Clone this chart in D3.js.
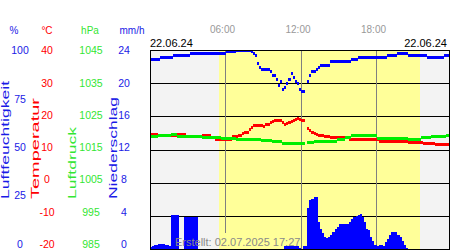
<!DOCTYPE html>
<html>
<head>
<meta charset="utf-8">
<script src="https://cdn.jsdelivr.net/npm/d3@7"></script>
<style>
body { margin: 0; background: #fff; }
svg { display: block; font-family: "Liberation Sans", Arial, sans-serif; }
</style>
</head>
<body>
<svg id="chart" width="450" height="250"></svg>
<script>
// one value every 10 minutes, 00:00 .. 23:50 (null = no sample)
var humidity = [
  95,95,95,95,95,96,96,96,96,96,96,97,
  97,97,97,97,97,97,97,98,98,98,98,98,
  98,98,98,98,98,98,98,98,98,98,98,98,
  99,99,99,99,99,100,100,100,100,100,100,100,
  99,98,97,93,91,90,90,90,90,89,87,87,
  85,82,84,80,81,83,85,88,86,84,83,80,
  79,79,null,84,87,89,89,90,91,92,92,92,
  92,92,94,94,94,94,94,94,94,94,94,94,
  95,95,95,96,96,96,96,96,96,96,96,96,
  96,96,96,96,96,97,97,97,97,97,98,98,
  98,98,98,97,97,97,97,97,97,97,97,97,
  96,96,96,96,96,96,96,96,97,97,97,97
];
var temperature = [
  14.6,14.6,14.6,14.6,14.3,14.3,14.3,14.3,14.3,14.3,14.3,14.3,
  14.3,14.4,14.4,14.4,14.4,13.9,13.9,13.9,13.9,13.9,13.9,13.9,
  13.9,14.1,14.1,14.1,14.1,13.7,13.7,12.9,12.9,12.9,13.0,13.0,
  13.0,13.0,13.0,13.8,13.8,13.8,14.1,14.1,14.7,15.0,15.2,15.9,
  16.6,17.1,17.1,17.2,17.2,17.2,16.9,17.4,17.4,18.2,18.4,18.6,
  18.6,18.6,18.6,18.0,17.4,17.8,18.1,18.4,18.8,19.0,19.2,19.0,
  18.7,18.7,null,16.4,15.6,15.0,14.8,14.6,14.2,14.2,14.1,14.0,
  13.9,13.9,13.6,13.5,13.5,13.5,13.5,13.5,13.5,13.5,13.5,12.9,
  12.9,12.9,12.9,12.9,12.9,12.9,12.9,12.9,12.9,12.9,12.9,12.9,
  12.9,12.3,12.3,12.3,12.3,12.3,12.3,12.3,12.3,12.3,12.3,12.3,
  12.3,12.3,12.3,12.0,12.0,12.0,12.0,12.0,12.0,12.0,11.7,11.7,
  11.7,11.7,11.7,11.7,11.5,11.5,11.5,11.5,11.5,11.5,11.5,11.5
];
var pressure = [
  1019.0,1019.0,1019.0,1019.0,1019.2,1019.2,1019.2,1019.2,1019.2,1019.2,1019.4,1019.4,
  1019.4,1018.8,1018.8,1018.8,1018.8,1018.8,1018.8,1018.8,1018.8,1018.8,1018.8,1018.8,
  1018.8,1018.6,1018.6,1018.6,1018.6,1018.6,1018.6,1018.6,1018.6,1018.6,1018.2,1018.2,
  1018.2,1018.2,1018.2,1018.2,1018.2,1018.1,1018.1,1018.1,1018.1,1018.1,1018.1,1018.1,
  1018.1,1018.1,1018.1,1018.1,1018.1,1017.7,1017.7,1017.7,1017.7,1017.7,1017.3,1017.3,
  1017.3,1017.3,1017.3,1016.9,1016.9,1016.9,1016.9,1016.9,1016.9,1016.9,1016.9,1016.9,
  1016.9,1016.9,null,1017.2,1017.2,1017.2,1017.4,1017.4,1017.4,1017.4,1017.4,1017.4,
  1017.4,1017.4,1017.4,1017.4,1017.4,1018.1,1018.1,1018.1,1018.1,1018.7,1018.7,1018.7,
  1019.2,1019.2,1019.2,1019.2,1019.2,1019.2,1019.2,1019.2,1019.2,1019.2,1019.2,1019.2,
  1018.4,1018.4,1018.4,1018.4,1018.4,1018.4,1018.4,1018.4,1018.4,1018.4,1018.4,1018.4,
  1018.4,1018.4,1018.4,1018.1,1018.1,1018.1,1018.1,1018.1,1018.1,1018.6,1018.6,1018.6,
  1018.6,1018.6,1019.0,1019.0,1019.0,1019.0,1019.0,1019.0,1019.0,1019.3,1019.3,1019.3
];
var rainfall = [
  0.3,0.4,0.5,0.5,0.6,0.6,0.6,0.5,0.5,0.4,4.1,4.1,
  4.1,4.1,0,0,3.9,3.9,3.9,3.9,3.9,3.9,3.9,0,
  0,0,0,0,0,0,0,0,0,0,0,0,
  0,0,0,0,0,0,0,0,0,0,0,0,
  0,0,0,0,0,0,0,0,0,0,0,0,
  0,0,0,0,0.4,0.4,0.4,0.4,0.4,0.4,0.4,0.1,
  0,0.4,0.4,5.0,5.9,6.0,6.3,6.3,3.2,2.4,1.9,1.4,
  1.3,1.4,1.7,2.1,2.4,2.7,3.0,3.0,3.0,3.0,3.0,3.2,
  3.6,3.8,4.0,4.1,4.2,3.8,3.3,2.4,2.3,1.5,1.0,0.5,
  0.4,0.5,0.5,0.4,0.9,1.2,1.7,2.0,2.0,2.0,1.7,1.4,
  1.0,0.5,0.1,0,0,0,0,0,0,0,0,0,
  0,0,0,0,0,0,0,0,0,0,0,0
];

var humTicks = [0, 25, 50, 75, 100];
var tempTicks = [-20, -10, 0, 10, 20, 30, 40];
var presTicks = [985, 995, 1005, 1015, 1025, 1035, 1045];
var rainTicks = [0, 4, 8, 12, 16, 20, 24];
var hourTicks = [6, 12, 18];
var hourLabels = ["06:00", "12:00", "18:00"];
var daylight = [5.5, 21.45];
var dateLabel = "22.06.24";
var createdLabel = "Erstellt: 02.07.2025 17:27";

var BLUE = "#0000ff", RED = "#ff0000", GREEN = "#00ee00";
var pLeft = 150, pRight = 449, pTop = 50, pBottom = 249;

var svg = d3.select("#chart");

var x = d3.scaleLinear().domain([0, 24]).range([150, 452]);
var yHum = d3.scaleLinear().domain([0, 100]).range([pBottom, pTop]);
var yTemp = d3.scaleLinear().domain([-20, 40]).range([pBottom, pTop]);
var yPres = d3.scaleLinear().domain([985, 1045]).range([pBottom, pTop]);
var yRain = d3.scaleLinear().domain([0, 24]).range([pBottom, pTop]);
var yGrid = d3.scaleLinear().domain([0, 6]).range([pBottom + 0.5, pTop + 0.5]);

// the tick labels sit on their own, slightly tighter spacing
var labHum = d3.scaleLinear().domain([0, 100]).range([244, 50.5]);
var labTemp = d3.scaleLinear().domain([-20, 40]).range([244, 50.5]);
var labPres = d3.scaleLinear().domain([985, 1045]).range([244, 50.5]);
var labRain = d3.scaleLinear().domain([0, 24]).range([244, 50.5]);

var defs = svg.append("defs");
defs.append("clipPath").attr("id", "plot")
  .append("rect").attr("x", pLeft).attr("y", pTop).attr("width", pRight - pLeft).attr("height", pBottom - pTop + 1);
defs.append("clipPath").attr("id", "stamp")
  .append("rect").attr("x", 173).attr("y", 233).attr("width", 126).attr("height", 17);

var drawBack = function(g){
  g.append("rect").attr("x", pLeft).attr("y", pTop).attr("width", pRight - pLeft).attr("height", pBottom - pTop + 1)
    .attr("fill", "#f3f3f3");
  g.append("rect").attr("x", Math.round(x(daylight[0]))).attr("y", pTop)
    .attr("width", Math.round(x(daylight[1]) - x(daylight[0]))).attr("height", pBottom - pTop + 1)
    .attr("fill", "#ffff99");
};

var plot = svg.append("g").attr("clip-path", "url(#plot)");
drawBack(plot);

// horizontal grid
plot.append("g").selectAll("line").data(d3.range(1, 6)).enter().append("line")
  .attr("x1", pLeft).attr("x2", pRight)
  .attr("y1", function(d){ return Math.floor(yGrid(d)) + 0.5; })
  .attr("y2", function(d){ return Math.floor(yGrid(d)) + 0.5; })
  .attr("stroke", "#000").attr("stroke-width", 1);

// vertical grid
plot.append("g").selectAll("line").data(hourTicks).enter().append("line")
  .attr("x1", function(d){ return Math.floor(x(d)) + 0.5; })
  .attr("x2", function(d){ return Math.floor(x(d)) + 0.5; })
  .attr("y1", pTop).attr("y2", pBottom + 1)
  .attr("stroke", "#808080").attr("stroke-width", 1);

// background patch under the creation stamp
drawBack(plot.append("g").attr("clip-path", "url(#stamp)"));

var samples = function(arr){
  return arr.map(function(v, i){ return { i: i, v: v }; })
    .filter(function(d){ return d.v !== null; });
};
var x0 = function(d){ return Math.round(x(d.i / 6)); };
var w = function(d){ return Math.round(x((d.i + 1) / 6)) - Math.round(x(d.i / 6)); };

// precipitation bars
plot.append("g").selectAll("rect").data(samples(rainfall).filter(function(d){ return d.v > 0; }))
  .enter().append("rect")
  .attr("x", x0).attr("width", w)
  .attr("y", function(d){ return Math.round(yRain(d.v)); })
  .attr("height", function(d){ return pBottom + 1 - Math.round(yRain(d.v)); })
  .attr("fill", BLUE).attr("shape-rendering", "crispEdges");

var drawSeries = function(arr, scale, color){
  plot.append("g").selectAll("rect").data(samples(arr)).enter().append("rect")
    .attr("x", x0).attr("width", w)
    .attr("y", function(d){ return Math.round(scale(d.v) - 1.5); })
    .attr("height", 3)
    .attr("fill", color).attr("shape-rendering", "crispEdges");
};
drawSeries(temperature, yTemp, RED);
drawSeries(pressure, yPres, GREEN);
drawSeries(humidity, yHum, BLUE);

svg.append("text").attr("x", 175).attr("y", 245.5)
  .attr("font-size", 11).attr("fill", "#8a8a8a")
  .text(createdLabel);

// frame
svg.append("rect").attr("x", pLeft + 0.5).attr("y", pTop + 0.5)
  .attr("width", pRight - pLeft).attr("height", pBottom - pTop)
  .attr("fill", "none").attr("stroke", "#000").attr("stroke-width", 1)
  .attr("shape-rendering", "crispEdges");

// header units
var units = [
  { t: "%", x: 14, c: "#1a1ae6" },
  { t: "°C", x: 47, c: RED },
  { t: "hPa", x: 90, c: "#33e633" },
  { t: "mm/h", x: 132, c: "#1a1ae6" }
];
svg.append("g").selectAll("text").data(units).enter().append("text")
  .attr("x", function(d){ return d.x; }).attr("y", 34)
  .attr("text-anchor", "middle").attr("font-size", 10)
  .attr("fill", function(d){ return d.c; })
  .text(function(d){ return d.t; });

var tickCol = function(ticks, scale, xPos, color){
  svg.append("g").selectAll("text").data(ticks).enter().append("text")
    .attr("x", xPos).attr("y", function(d){ return scale(d); })
    .attr("dy", "0.36em")
    .attr("text-anchor", "middle").attr("font-size", 10.5)
    .attr("fill", color)
    .text(function(d){ return d; });
};
tickCol(humTicks, labHum, 20, "#1a1ae6");
tickCol(tempTicks, labTemp, 47, RED);
tickCol(presTicks, labPres, 91, "#33e633");
tickCol(rainTicks, labRain, 124, "#1a1ae6");

// rotated axis titles
var titles = [
  { t: "Luftfeuchtigkeit", x: 8.5, len: 118, c: "#1a1ae6" },
  { t: "Temperatur", x: 39, len: 101, c: RED },
  { t: "Luftdruck", x: 76, len: 72, c: "#33e633" },
  { t: "Niederschlag", x: 117, len: 102, c: "#1a1ae6" }
];
svg.append("g").selectAll("text").data(titles).enter().append("text")
  .attr("transform", function(d){ return "translate(" + d.x + ",199) rotate(-90)"; })
  .attr("font-size", 10)
  .attr("textLength", function(d){ return d.len; })
  .attr("lengthAdjust", "spacingAndGlyphs")
  .attr("fill", function(d){ return d.c; })
  .text(function(d){ return d.t; });

// hour labels
svg.append("g").selectAll("text").data(hourTicks).enter().append("text")
  .attr("x", function(d){ return x(d) - 3; }).attr("y", 33)
  .attr("text-anchor", "middle").attr("font-size", 10)
  .attr("fill", "#999")
  .text(function(d, i){ return hourLabels[i]; });

svg.append("text").attr("x", 150).attr("y", 47).attr("font-size", 11).attr("fill", "#000").text(dateLabel);
svg.append("text").attr("x", 447).attr("y", 47).attr("text-anchor", "end").attr("font-size", 11).attr("fill", "#000").text(dateLabel);
</script>
</body>
</html>
